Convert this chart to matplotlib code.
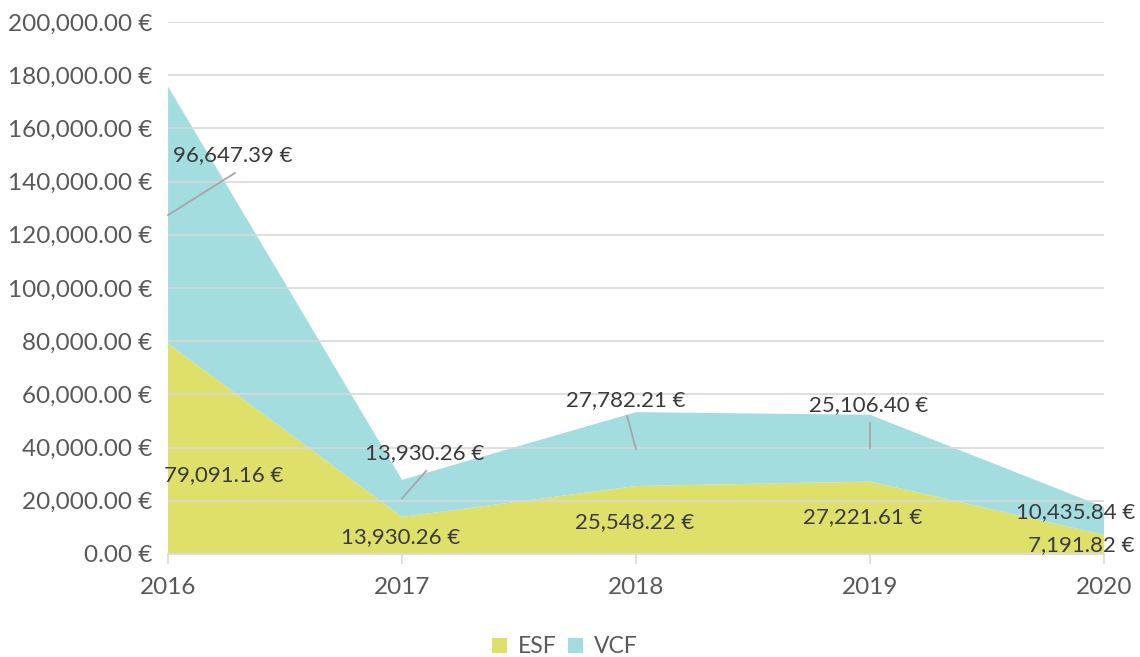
import matplotlib
matplotlib.use("Agg")
import matplotlib.pyplot as plt
from matplotlib.ticker import FuncFormatter
from matplotlib.patches import Patch

years = [2016, 2017, 2018, 2019, 2020]
esf = [79091.16, 13930.26, 25548.22, 27221.61, 7191.82]
vcf = [96647.39, 13930.26, 27782.21, 25106.40, 10435.84]
series_names = ["ESF", "VCF"]
colors = ["#DEE06A", "#A4DDE0"]
yticks = list(range(0, 200001, 20000))

plt.rcParams['font.family'] = ['Lato', 'DejaVu Sans']
plt.rcParams['font.weight'] = 'normal'
txt_color = "#3a3a3a"
tick_color = "#595959"

fig = plt.figure(figsize=(11.4, 6.57), dpi=100)
ax = fig.add_axes([0.1474, 0.1568, 0.8210, 0.8097])

ax.stackplot(years, esf, vcf, colors=colors, linewidth=0)
ax.set_xlim(years[0], years[-1])
ax.set_ylim(0, 200000)
ax.set_yticks(yticks)
ax.set_xticks(years)
ax.yaxis.set_major_formatter(FuncFormatter(lambda v, p: f"{v:,.2f} €"))
ax.grid(axis='y', color='#d9d9d9', linewidth=1.2, zorder=0)
ax.set_axisbelow(False)
for s in ['top', 'right', 'left']:
    ax.spines[s].set_visible(False)
ax.spines['bottom'].set_color('#d9d9d9')
ax.spines['bottom'].set_linewidth(1.2)
ax.tick_params(axis='y', length=0, pad=11.5, labelsize=17.5, labelcolor=tick_color)
ax.tick_params(axis='x', length=7.5, width=1.2, color='#d9d9d9', pad=9,
               labelsize=17.5, labelcolor=tick_color)

def fmt(v):
    return f"{v:,.2f} €"

fs = 16
# label anchors (data coords) and leader-line ends
vcf_label_pos = [(2016.278, 150000), (2017.098, 37970), (2017.957, 57895), (2018.996, 56015), (2020.132, 15789)]
vcf_label_ha = ['center', 'center', 'center', 'center', 'right']
vcf_leader = [(2016.286, 143233), (2017.103, 31203), (2017.962, 51880), (2019.0, 49248), None]
esf_label_pos = [(2016.239, 29700), (2016.996, 6391), (2017.996, 12030), (2018.970, 13910), (2020.132, 3383)]
esf_label_ha = ['center', 'center', 'center', 'center', 'right']

for i, y in enumerate(years):
    mid = esf[i] + vcf[i] / 2
    lx, ly = vcf_label_pos[i]
    if vcf_leader[i] is not None:
        ax.plot([y, vcf_leader[i][0]], [mid, vcf_leader[i][1]], color='#a6a6a6',
                linewidth=1.3, zorder=3, clip_on=False)
    ax.text(lx, ly, fmt(vcf[i]), fontsize=fs, color=txt_color, ha=vcf_label_ha[i],
            va='center', zorder=4, clip_on=False)
    ex, ey = esf_label_pos[i]
    ax.text(ex, ey, fmt(esf[i]), fontsize=fs, color=txt_color, ha=esf_label_ha[i],
            va='center', zorder=4, clip_on=False)

handles = [Patch(facecolor=c, edgecolor='none') for c in colors]
fig.legend(handles, series_names, loc='center', bbox_to_anchor=(0.4956, 0.0155), ncol=2,
           frameon=False, fontsize=16.5, labelcolor=tick_color, handlelength=0.65,
           handleheight=0.65, handletextpad=0.48, columnspacing=0.48, borderpad=0)

fig.savefig("out.png", dpi=100)
